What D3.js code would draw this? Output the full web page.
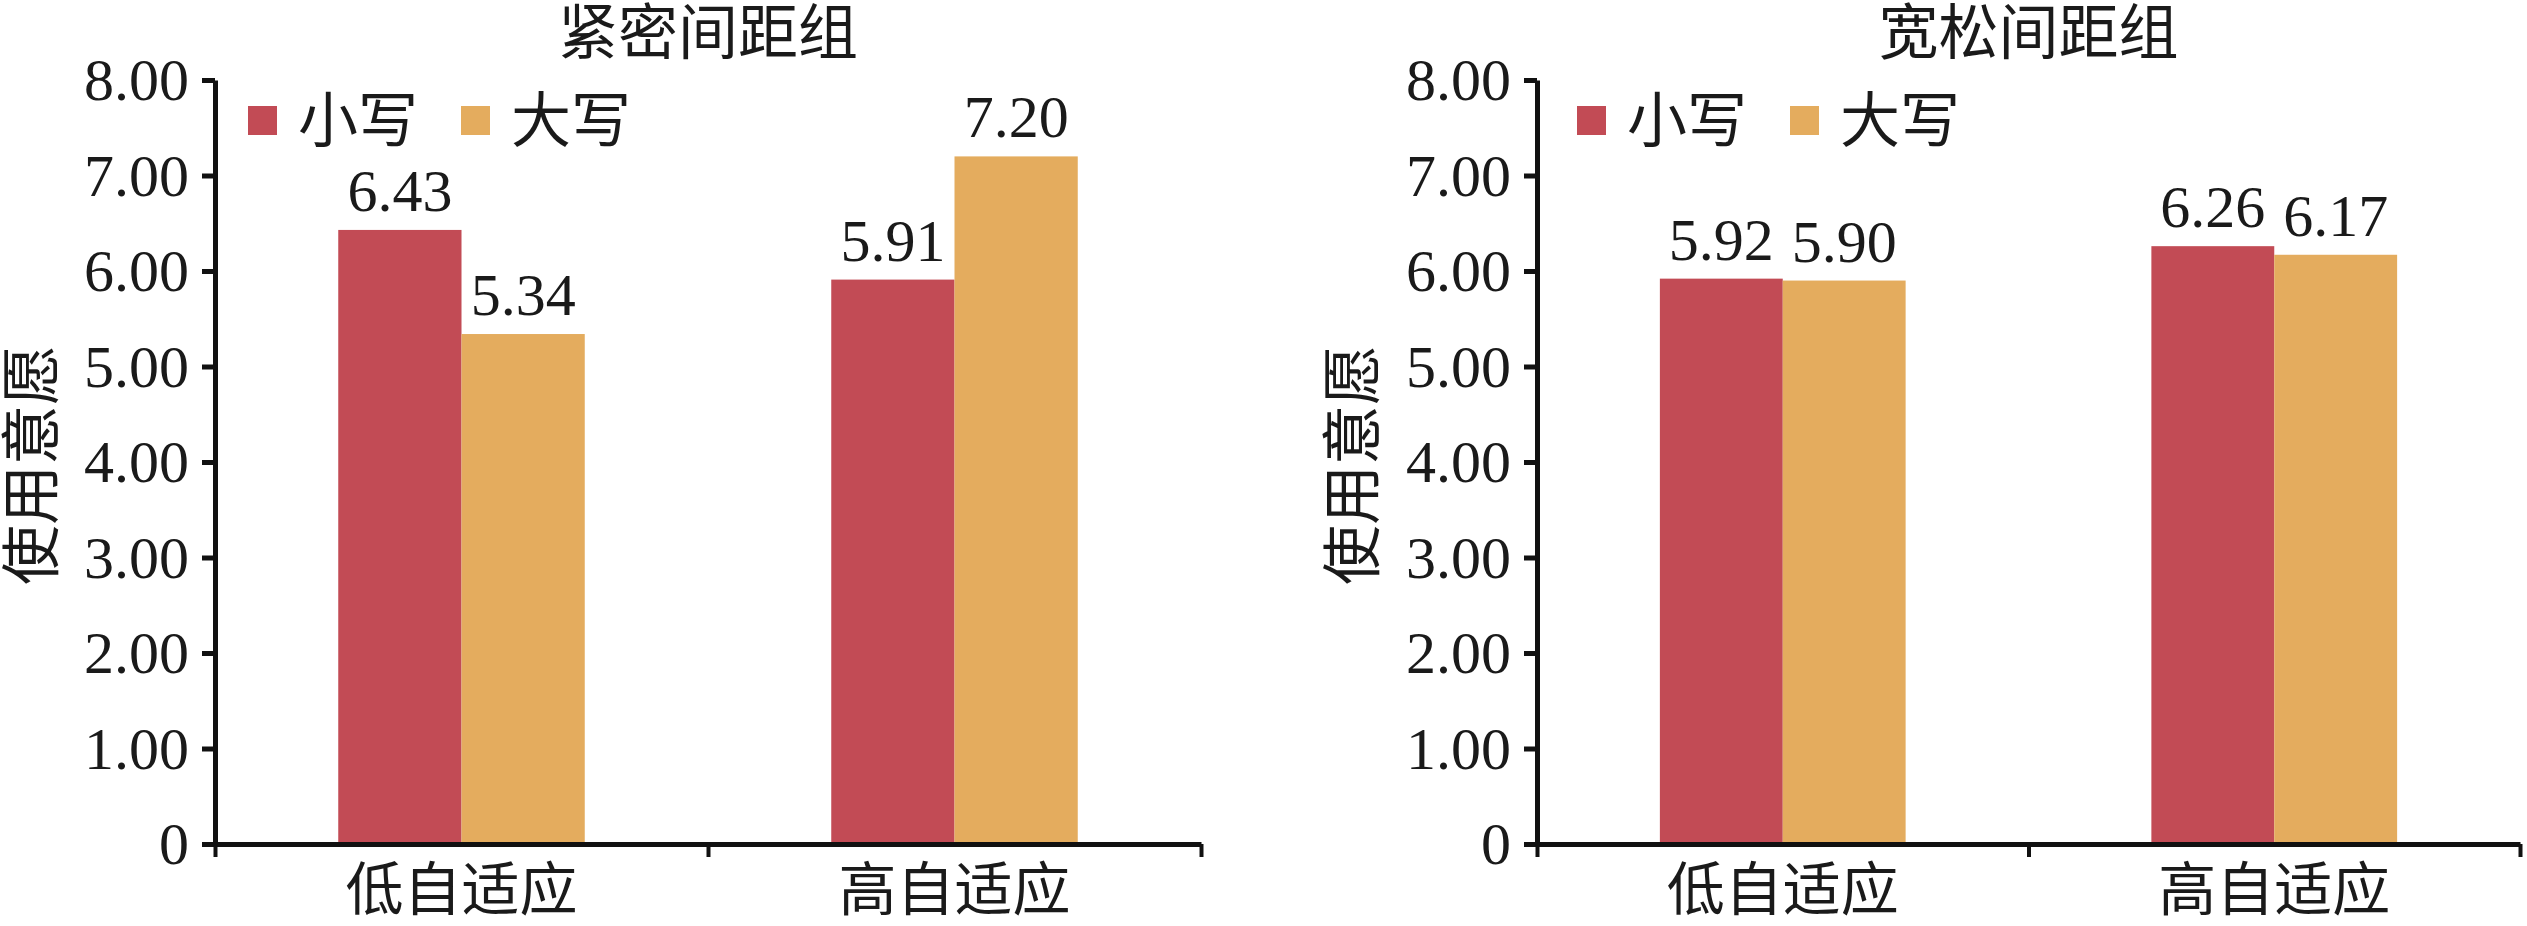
<!DOCTYPE html>
<html>
<head>
<meta charset="utf-8">
<script src="https://cdn.jsdelivr.net/npm/d3@7"></script>
<style>
  html, body { margin: 0; padding: 0; background: #fff; }
  svg { display: block; }
  text { font-family: "Liberation Serif", "Times New Roman", "Noto Sans CJK SC", serif; fill: #1a1a1a; }
</style>
</head>
<body>
<svg id="chart" width="2527" height="926"></svg>
<script>
// ---- data ----
const categories = ["低自适应", "高自适应"];
const seriesNames = ["小写", "大写"];
const panelTitles = ["紧密间距组", "宽松间距组"];
const yAxisTitle = "使用意愿";
const tightLower = [6.43, 5.91];
const tightUpper = [5.34, 7.20];
const looseLower = [5.92, 6.26];
const looseUpper = [5.90, 6.17];
const yTicks = [0, 1, 2, 3, 4, 5, 6, 7, 8];

const colors = { "小写": "#c24b55", "大写": "#e4ac5e" };

const svg = d3.select("#chart");

const panels = [
  { title: panelTitles[0], lower: tightLower, upper: tightUpper, x0: 215, x1: 1201, legendX: 248, yLabelX: 32 },
  { title: panelTitles[1], lower: looseLower, upper: looseUpper, x0: 1537, x1: 2520, legendX: 1577, yLabelX: 1353 }
];

const yTop = 80, yBottom = 844;
const FS = 60;

panels.forEach(p => {
  const g = svg.append("g");
  const y = d3.scaleLinear().domain([0, 8]).range([yBottom, yTop]);
  const xBand = d3.scaleBand().domain(categories).range([p.x0, p.x1]).paddingInner(0).paddingOuter(0);
  const xSub = d3.scaleBand().domain(seriesNames).range([0, xBand.bandwidth()]).paddingInner(0).paddingOuter(1);

  const rows = categories.map((c, i) => ({ cat: c, values: [
    { s: seriesNames[0], v: p.lower[i] },
    { s: seriesNames[1], v: p.upper[i] }
  ]}));

  // bars
  const grp = g.selectAll(".grp").data(rows).enter().append("g")
    .attr("transform", d => `translate(${xBand(d.cat)},0)`);
  grp.selectAll("rect").data(d => d.values).enter().append("rect")
    .attr("x", d => xSub(d.s))
    .attr("width", xSub.bandwidth())
    .attr("y", d => y(d.v))
    .attr("height", d => y(0) - y(d.v))
    .attr("fill", d => colors[d.s]);
  grp.selectAll("text.val").data(d => d.values).enter().append("text")
    .attr("class", "val")
    .attr("x", d => xSub(d.s) + xSub.bandwidth() / 2)
    .attr("y", d => y(d.v) - 19)
    .attr("text-anchor", "middle")
    .attr("font-size", FS)
    .text(d => d.v.toFixed(2));

  // y axis
  const yAxis = g.append("g").attr("transform", `translate(${p.x0},0)`)
    .call(d3.axisLeft(y).tickValues(yTicks)
      .tickFormat(d => d === 0 ? "0" : d.toFixed(2))
      .tickSize(13).tickSizeOuter(0).tickPadding(13));
  yAxis.select(".domain").attr("stroke", "#111").attr("stroke-width", 5);
  yAxis.selectAll(".tick line").attr("stroke", "#111").attr("stroke-width", 5);
  yAxis.selectAll(".tick text").attr("font-size", FS).attr("font-family", null)
    .attr("fill", "#1a1a1a").attr("dy", "0.33em");

  // x axis line with boundary ticks
  const xLin = d3.scaleLinear().domain([0, categories.length]).range([p.x0, p.x1]);
  const xAxis = g.append("g").attr("transform", `translate(0,${yBottom})`)
    .call(d3.axisBottom(xLin).tickValues(d3.range(categories.length + 1))
      .tickFormat("").tickSize(13).tickSizeOuter(0));
  xAxis.select(".domain").attr("stroke", "#111").attr("stroke-width", 5);
  xAxis.selectAll(".tick line").attr("stroke", "#111").attr("stroke-width", 4);

  // category labels
  const xLab = g.append("g").attr("transform", `translate(0,${yBottom})`)
    .call(d3.axisBottom(xBand).tickSize(0).tickPadding(0));
  xLab.select(".domain").remove();
  xLab.selectAll(".tick text").attr("font-size", 58).attr("font-family", null)
    .attr("fill", "#1a1a1a").attr("dy", null).attr("y", 66);

  // title
  g.append("text")
    .attr("x", (p.x0 + p.x1) / 2)
    .attr("y", 54)
    .attr("text-anchor", "middle")
    .attr("font-size", FS)
    .text(p.title);

  // y axis title
  g.append("text")
    .attr("transform", `translate(${p.yLabelX + 21},${(yTop + yBottom) / 2 + 3}) rotate(-90)`)
    .attr("text-anchor", "middle")
    .attr("font-size", FS)
    .text(yAxisTitle);

  // legend
  const lg = g.append("g").attr("transform", `translate(${p.legendX},106)`);
  seriesNames.forEach((s, i) => {
    const ox = i * 213;
    lg.append("rect").attr("x", ox).attr("y", 0).attr("width", 29).attr("height", 29).attr("fill", colors[s]);
    lg.append("text").attr("x", ox + 50).attr("y", 36).attr("font-size", FS).text(s);
  });
});
</script>
</body>
</html>
